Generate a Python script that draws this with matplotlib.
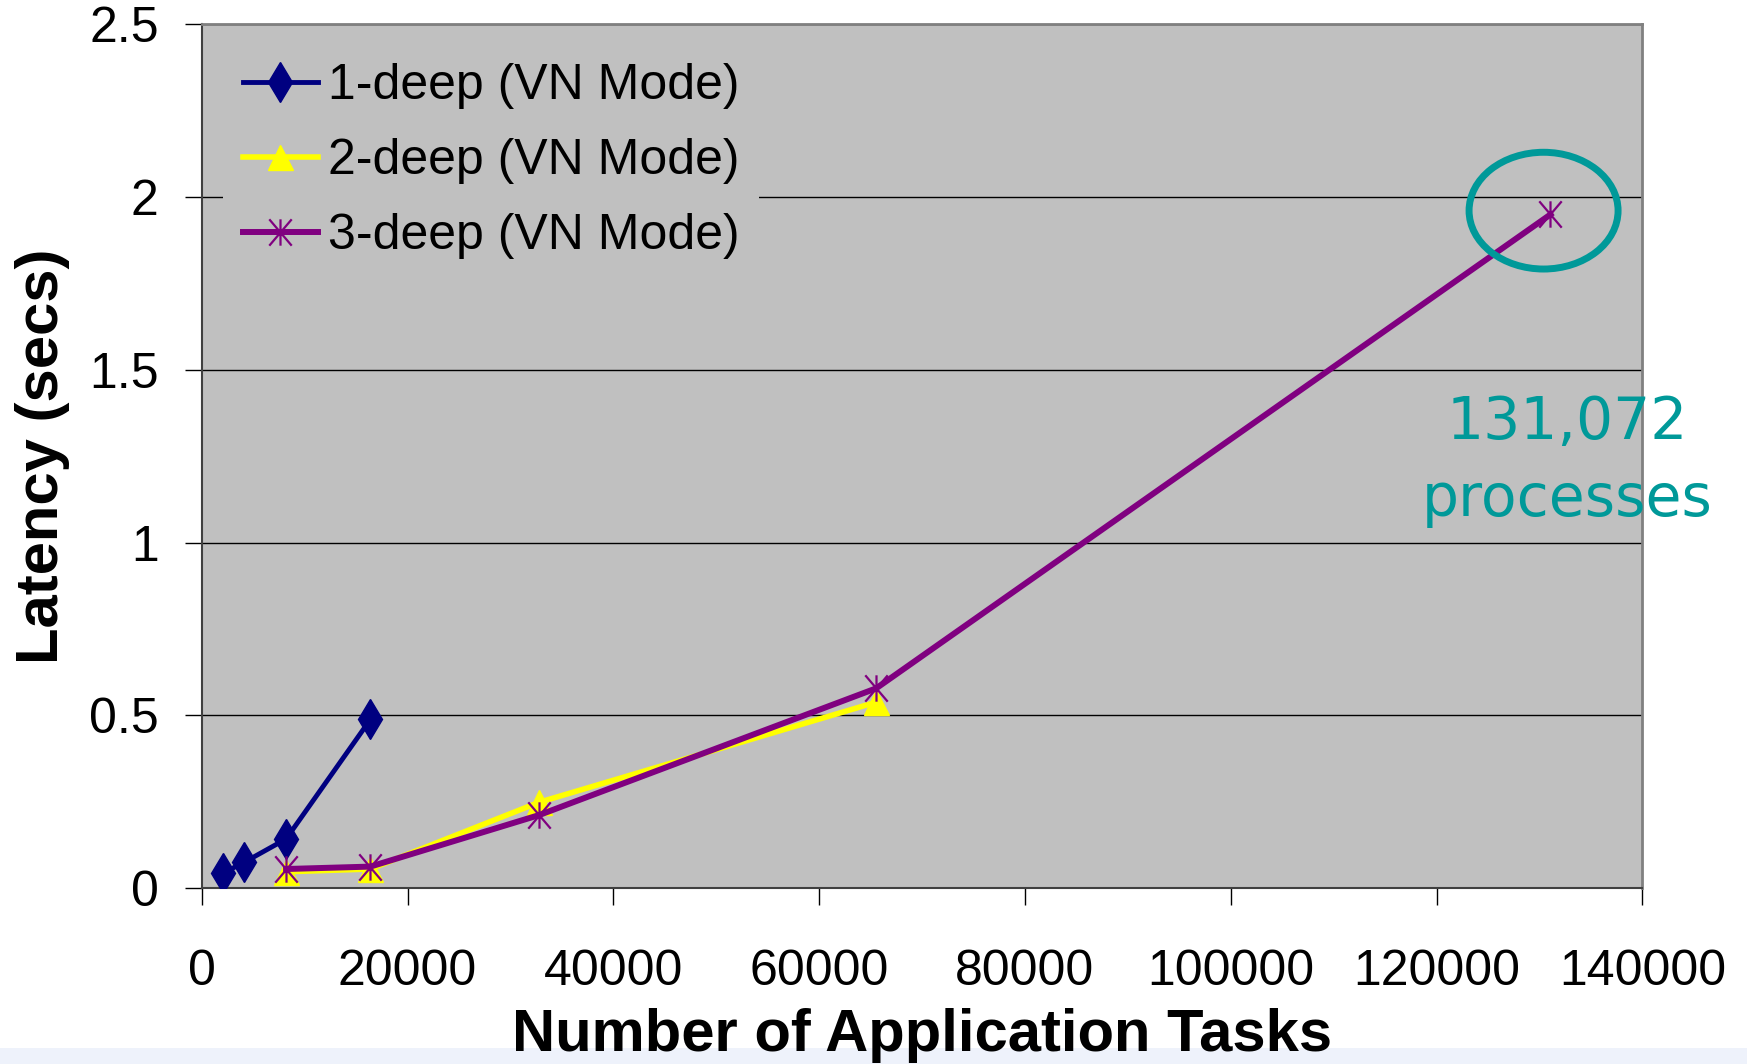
import matplotlib
matplotlib.use("Agg")
import matplotlib.pyplot as plt
from matplotlib.patches import Ellipse, Rectangle
from matplotlib.path import Path

# latency measurements (secs) vs number of application tasks
tasks_1deep = [2048, 4096, 8192, 16384]
latency_1deep = [0.043, 0.074, 0.142, 0.488]

tasks_2deep = [8192, 16384, 32768, 65536]
latency_2deep = [0.047, 0.055, 0.248, 0.538]

tasks_3deep = [8192, 16384, 32768, 65536, 131072]
latency_3deep = [0.055, 0.062, 0.211, 0.578, 1.95]

labels = ["1-deep (VN Mode)", "2-deep (VN Mode)", "3-deep (VN Mode)"]
xticks = [0, 20000, 40000, 60000, 80000, 100000, 120000, 140000]
yticks = [0, 0.5, 1, 1.5, 2, 2.5]

# asterisk marker: vertical stroke plus an X
star = Path([(0, -1), (0, 1), (-0.85, -1), (0.85, 1), (-0.85, 1), (0.85, -1)],
            [Path.MOVETO, Path.LINETO, Path.MOVETO, Path.LINETO, Path.MOVETO, Path.LINETO])

plt.rcParams['font.family'] = ['Liberation Sans', 'DejaVu Sans']

fig = plt.figure(figsize=(17.47, 10.64), dpi=100)
fig.patches.append(Rectangle((0, 0), 1, 16 / 1064, transform=fig.transFigure,
                             facecolor='#EEF2FB', edgecolor='none', zorder=-1))

ax = fig.add_axes([0.1155, 0.1654, 0.8246, 0.8116])
ax.set_facecolor('#C0C0C0')

ax.plot(tasks_1deep, latency_1deep, color='#000080', lw=3.5, marker='d',
        markersize=20, label=labels[0], zorder=3)
ax.plot(tasks_2deep, latency_2deep, color='#FFFF00', lw=4, marker='^',
        markersize=18, label=labels[1], zorder=3)
ax.plot(tasks_3deep, latency_3deep, color='#800080', lw=4.3, marker=star,
        markersize=19, markeredgewidth=1.6, markerfacecolor='none',
        label=labels[2], zorder=4)

ax.set_xlim(0, 140000)
ax.set_ylim(0, 2.5)
ax.set_xticks(xticks)
ax.set_xticklabels([str(t) for t in xticks])
ax.set_yticks(yticks)
ax.set_yticklabels(['0', '0.5', '1', '1.5', '2', '2.5'])
ax.grid(axis='y', color='black', lw=1)
ax.set_axisbelow(True)

ax.tick_params(axis='x', direction='out', length=12, width=1, pad=32, labelsize=36)
ax.tick_params(axis='y', direction='out', length=12, width=1, pad=19, labelsize=36)

for side in ['left', 'bottom']:
    ax.spines[side].set_color('#404040')
    ax.spines[side].set_linewidth(1.5)
for side in ['top', 'right']:
    ax.spines[side].set_color('#808080')
    ax.spines[side].set_linewidth(2)

ax.set_xlabel('Number of Application Tasks', fontsize=43, fontweight='bold', labelpad=9)
ax.set_ylabel('Latency (secs)', fontsize=43, fontweight='bold', labelpad=14)

leg = ax.legend(loc='upper left', bbox_to_anchor=(0.0146, 0.978), borderaxespad=0,
                fontsize=36, frameon=True, facecolor='#C0C0C0', edgecolor='none',
                framealpha=1, fancybox=False, handlelength=1.5, handletextpad=0.2,
                labelspacing=0.58, borderpad=0.4)

# highlight the largest run
ax.add_patch(Ellipse((130400, 1.961), 14480, 0.338, fill=False,
                     edgecolor='#009999', lw=5, zorder=5))
ax.text(132700, 1.30, '131,072', color='#009999', fontsize=42,
        family='DejaVu Sans', ha='center', va='baseline', clip_on=False)
ax.text(132700, 1.077, 'processes', color='#009999', fontsize=42,
        family='DejaVu Sans', ha='center', va='baseline', clip_on=False)

fig.savefig('out.png', dpi=100)
